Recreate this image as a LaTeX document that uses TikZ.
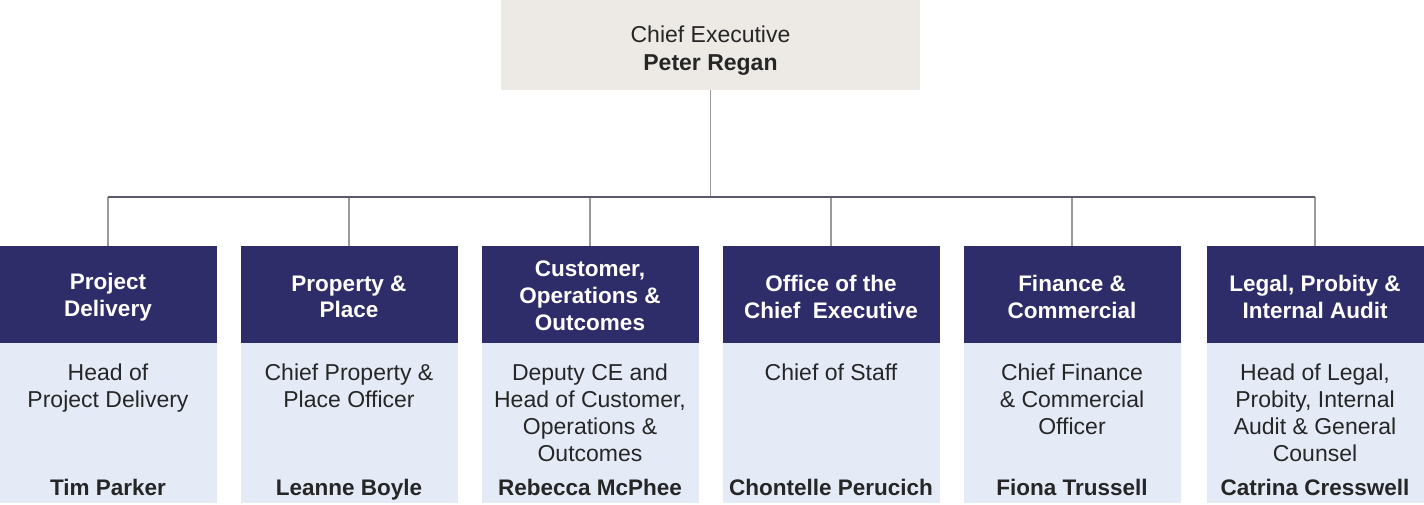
\documentclass[tikz,border=0pt]{standalone}
\usepackage{fontspec}
\setmainfont{Liberation Sans}
\definecolor{navy}{HTML}{2F2C6A}
\definecolor{paleblue}{HTML}{E4EBF7}
\definecolor{warmgrey}{HTML}{EDEAE6}
\definecolor{inkdark}{HTML}{262626}
\definecolor{busline}{HTML}{5A5A66}
\definecolor{dropline}{HTML}{9A9A9A}
\tikzset{
  ceobox/.style={rectangle, fill=warmgrey, minimum width=419pt, minimum height=90pt, inner sep=0pt},
  ceotxt/.style={align=center, text=inkdark, font=\fontsize{23}{28}\selectfont, inner sep=0pt},
  headbox/.style={rectangle, fill=navy, minimum width=217pt, minimum height=97pt, inner sep=0pt},
  headtxt/.style={align=center, text=white, inner sep=0pt, font=\fontsize{22.5}{26.5}\selectfont\bfseries},
  bodybox/.style={rectangle, fill=paleblue, minimum width=217pt, minimum height=160pt, inner sep=0pt},
  roletxt/.style={anchor=north, align=center, text=inkdark, font=\fontsize{23}{27}\selectfont, inner sep=0pt},
  nametxt/.style={anchor=base, text=inkdark, font=\fontsize{22.5}{26}\selectfont\bfseries, inner sep=0pt},
  bus/.style={draw=busline, line width=1.2pt},
  drop/.style={draw=dropline, line width=1.2pt}
}
\begin{document}
\begin{tikzpicture}[x=1pt,y=-1pt]
\useasboundingbox (0,0) rectangle (1424,504);
% CEO
\node[ceobox] (ceo) at (710.5,45) {};
\node[ceotxt] (ceot) at (710.5,51) {Chief Executive\\\textbf{Peter Regan}};
% headers
\foreach \i/\x in {1/108,2/349,3/590,4/831,5/1072,6/1315}{
  \node[headbox] (h\i) at (\x,294.5) {};
  \node[bodybox] (b\i) at (\x,423) {};
}
\node[headtxt] (ht1) at ([yshift=-2.5pt]h1.center) {Project\\Delivery};
\node[headtxt] (ht2) at ([yshift=-2.5pt]h2.center) {Property \&\\Place};
\node[headtxt, font=\fontsize{22.5}{27}\selectfont\bfseries] (ht3) at ([yshift=-1.5pt]h3.center) {Customer,\\Operations \&\\Outcomes};
\node[headtxt] (ht4) at ([yshift=-2.5pt]h4.center) {Office of the\\Chief\ \ Executive};
\node[headtxt] (ht5) at ([yshift=-2.5pt]h5.center) {Finance \&\\Commercial};
\node[headtxt] (ht6) at ([yshift=-2.5pt]h6.center) {Legal, Probity \&\\Internal Audit};
% roles
\node[roletxt] (r1) at ([yshift=-20.5pt]b1.north) {Head of\\Project Delivery};
\node[roletxt] (r2) at ([yshift=-20.5pt]b2.north) {Chief Property \&\\Place Officer};
\node[roletxt] (r3) at ([yshift=-20.5pt]b3.north) {Deputy CE and\\Head of Customer,\\Operations \&\\Outcomes};
\node[roletxt] (r4) at ([yshift=-20.5pt]b4.north) {Chief of Staff};
\node[roletxt] (r5) at ([yshift=-20.5pt]b5.north) {Chief Finance\\\& Commercial\\Officer};
\node[roletxt] (r6) at ([yshift=-20.5pt]b6.north) {Head of Legal,\\Probity, Internal\\Audit \& General\\Counsel};
% names
\node[nametxt] (n1) at ([yshift=8pt]b1.south) {Tim Parker};
\node[nametxt] (n2) at ([yshift=8pt]b2.south) {Leanne Boyle};
\node[nametxt] (n3) at ([yshift=8pt]b3.south) {Rebecca McPhee};
\node[nametxt] (n4) at ([yshift=8pt]b4.south) {Chontelle Perucich};
\node[nametxt] (n5) at ([yshift=8pt]b5.south) {Fiona Trussell};
\node[nametxt] (n6) at ([yshift=8pt]b6.south) {Catrina Cresswell};
% connectors
\coordinate (busL) at (107.5,197);
\coordinate (busR) at (1314.5,197);
\draw[drop] (ceo.south) -- (ceo.south |- busL);
\foreach \i in {1,...,6}{
  \draw[drop] (h\i.north) -- (h\i.north |- busL);
}
\draw[bus] (busL) -- (busR);
\end{tikzpicture}
\end{document}
